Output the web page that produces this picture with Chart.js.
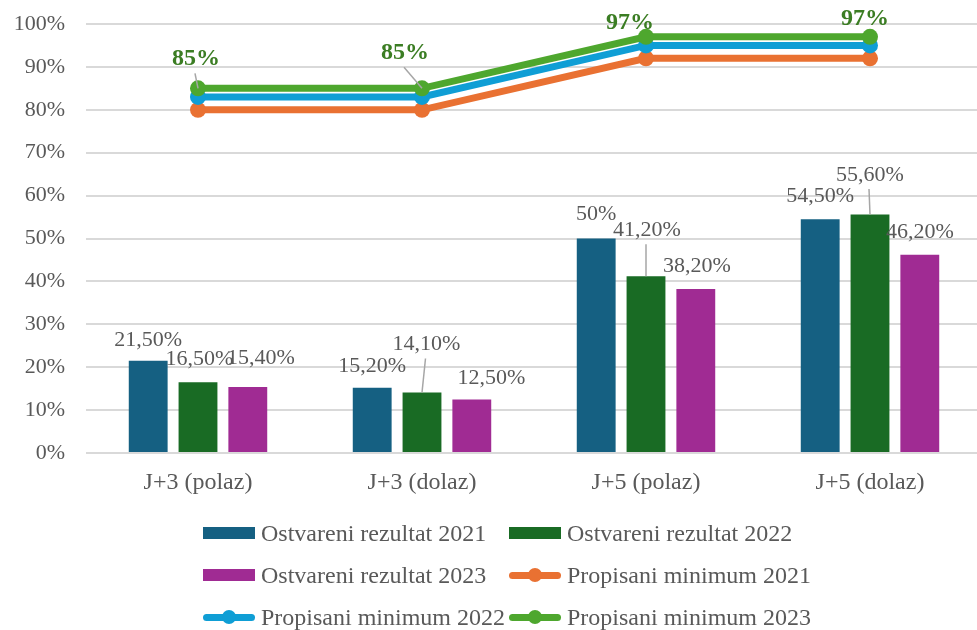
<!DOCTYPE html>
<html>
<head>
<meta charset="utf-8">
<script src="https://cdn.jsdelivr.net/npm/chart.js@4/dist/chart.umd.min.js"></script>
<style>
html, body { margin: 0; padding: 0; background: #fff; overflow: hidden; width: 977px; height: 630px; }
#wrap { position: relative; width: 990px; height: 630px; }
#legend {
  position: absolute; left: 203px; top: 512px;
  display: grid; grid-template-columns: 306px 306px; grid-auto-rows: 42px;
  font-family: "Liberation Serif", "Times New Roman", serif; font-size: 24px; color: #595959;
}
.item { display: flex; align-items: center; white-space: nowrap; }
.sw { position: relative; width: 52px; height: 16px; margin-right: 6px; }
.sw .bar { position: absolute; left: 0; top: 2px; width: 52px; height: 12px; }
.sw .ln { position: absolute; left: 0; top: 4.5px; width: 52px; height: 7px; border-radius: 3.5px; }
.sw .dot { position: absolute; left: 19px; top: 1px; width: 14px; height: 14px; border-radius: 50%; }
</style>
</head>
<body>
<div id="wrap">
  <canvas id="myChart" width="990" height="630"></canvas>
  <div id="legend"></div>
</div>
<script>
// podaci sa grafikona
const categories = ['J+3 (polaz)', 'J+3 (dolaz)', 'J+5 (polaz)', 'J+5 (dolaz)'];
const rez2021 = [21.5, 15.2, 50, 54.5];
const rez2022 = [16.5, 14.1, 41.2, 55.6];
const rez2023 = [15.4, 12.5, 38.2, 46.2];
const min2021 = [80, 80, 92, 92];
const min2022 = [83, 83, 95, 95];
const min2023 = [85, 85, 97, 97];
const yTicks = [0, 10, 20, 30, 40, 50, 60, 70, 80, 90, 100];

// pomjeranje natpisa [dx, dy, linija]
const off2021 = [[0, 1], [0, 0], [0, -2], [0, -1]];
const off2022 = [[1.5, -1], [4.5, -26, 1], [1, -24, 1], [0, -17.5, 1]];
const off2023 = [[13, -7], [19.5, 0.5], [1, -1], [0, -1]];
const offMin2023 = [[-2, -8, 1], [-17, -14, 1], [-16, 7.5], [-5, 3.5]];

const FONT = '"Liberation Serif", "Times New Roman", serif';
const GREY = '#595959';

function fmt(v) {
  if (Number.isInteger(v)) return v + '%';
  return v.toFixed(2).replace('.', ',') + '%';
}

const labelPlugin = {
  id: 'valueLabels',
  afterDatasetsDraw(chart) {
    const ctx = chart.ctx;
    ctx.save();
    ctx.textAlign = 'center';
    ctx.textBaseline = 'middle';
    chart.data.datasets.forEach((ds, i) => {
      if (!ds.offsets) return;
      const meta = chart.getDatasetMeta(i);
      meta.data.forEach((el, j) => {
        const o = ds.offsets[j];
        const isLine = ds.type === 'line';
        const lx = el.x + o[0];
        const ly = el.y - 22 + o[1];
        if (o[2]) {
          ctx.strokeStyle = '#A6A6A6';
          ctx.lineWidth = 1.5;
          ctx.beginPath();
          ctx.moveTo(el.x, el.y);
          ctx.lineTo(lx - 1, ly + (isLine ? 15 : 14));
          ctx.stroke();
        }
        if (isLine) {
          ctx.font = 'bold 24px ' + FONT;
          ctx.fillStyle = '#3B7D23';
        } else {
          ctx.font = '22px ' + FONT;
          ctx.fillStyle = GREY;
        }
        ctx.fillText(fmt(ds.data[j]), lx, ly);
      });
    });
    ctx.restore();
  }
};

const barDs = (label, data, color, offsets) => ({
  type: 'bar', label, data, backgroundColor: color, offsets, order: 3,
  categoryPercentage: 0.667, barPercentage: 0.78
});
const lineDs = (label, data, color, order, offsets) => ({
  type: 'line', label, data, borderColor: color, backgroundColor: color,
  borderWidth: 7, pointRadius: 8, pointHoverRadius: 8, pointBorderWidth: 0,
  pointBackgroundColor: color, fill: false, tension: 0, order, offsets, clip: false
});

const data = {
  labels: categories,
  datasets: [
    barDs('Ostvareni rezultat 2021', rez2021, '#156082', off2021),
    barDs('Ostvareni rezultat 2022', rez2022, '#196B24', off2022),
    barDs('Ostvareni rezultat 2023', rez2023, '#A02B93', off2023),
    lineDs('Propisani minimum 2021', min2021, '#E97132', 2),
    lineDs('Propisani minimum 2022', min2022, '#0F9ED5', 1),
    lineDs('Propisani minimum 2023', min2023, '#4EA72E', 0, offMin2023)
  ]
};

const config = {
  type: 'bar',
  data: data,
  options: {
    responsive: false,
    animation: false,
    layout: { padding: { top: 24, right: 4, bottom: 0, left: 0 } },
    plugins: { legend: { display: false }, tooltip: { enabled: false } },
    scales: {
      x: {
        grid: { display: false },
        border: { display: false },
        ticks: { color: GREY, font: { family: FONT, size: 24 }, padding: 7 },
        afterFit(scale) { scale.height = 177; }
      },
      y: {
        min: 0, max: 100,
        afterBuildTicks(scale) { scale.ticks = yTicks.map(v => ({ value: v })); },
        grid: { color: '#D9D9D9', lineWidth: 2, drawTicks: false },
        border: { display: false },
        ticks: { color: GREY, font: { family: FONT, size: 22 }, padding: 21, callback: v => v + '%' },
        afterFit(scale) {
          scale.width = 86;
          scale.paddingTop = 0;
          scale.paddingBottom = 0;
        }
      }
    }
  },
  plugins: [labelPlugin]
};

const myChart = new Chart(document.getElementById('myChart'), config);

// legenda u dvije kolone
const legend = document.getElementById('legend');
data.datasets.forEach(ds => {
  const item = document.createElement('div');
  item.className = 'item';
  const sw = document.createElement('span');
  sw.className = 'sw';
  if (ds.type === 'bar') {
    sw.innerHTML = '<span class="bar" style="background:' + ds.backgroundColor + '"></span>';
  } else {
    sw.innerHTML = '<span class="ln" style="background:' + ds.borderColor + '"></span>' +
      '<span class="dot" style="background:' + ds.borderColor + '"></span>';
  }
  const txt = document.createElement('span');
  txt.textContent = ds.label;
  item.appendChild(sw);
  item.appendChild(txt);
  legend.appendChild(item);
});
</script>
</body>
</html>
